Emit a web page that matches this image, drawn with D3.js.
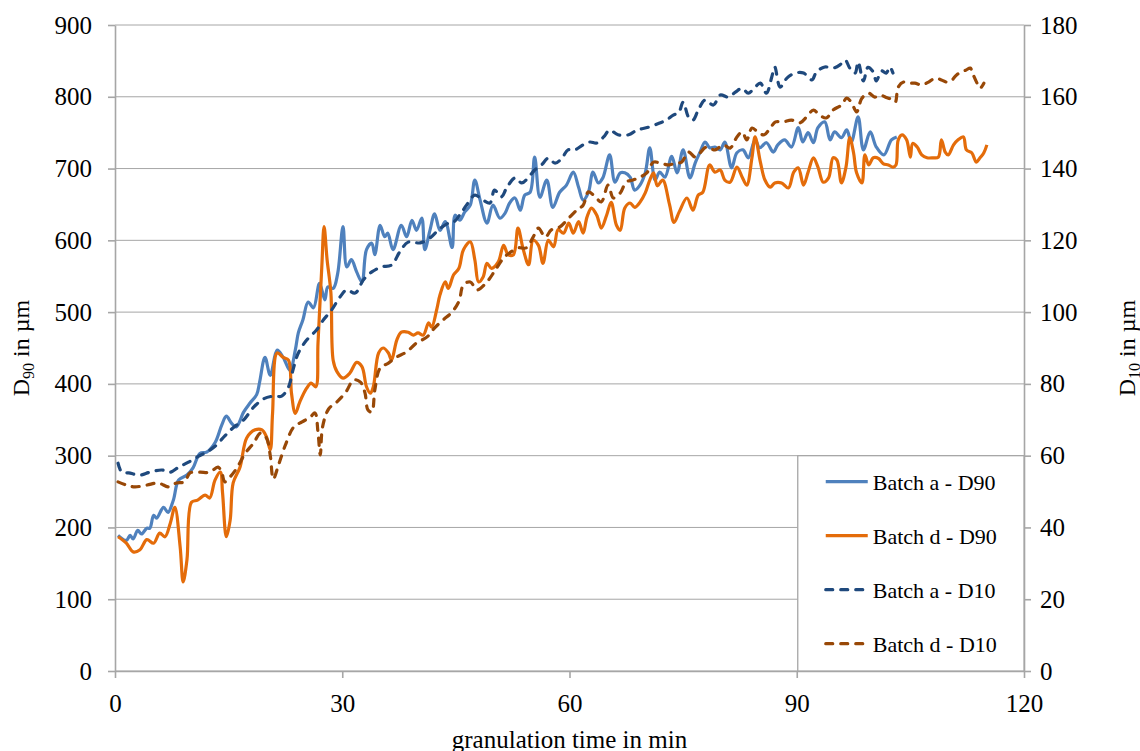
<!DOCTYPE html>
<html>
<head>
<meta charset="utf-8">
<script src="https://cdn.jsdelivr.net/npm/d3@7"></script>
<style>
  body { margin: 0; background: #fff; }
  svg text { font-family: "Liberation Serif", "Times New Roman", serif; fill: #000; }
</style>
</head>
<body>
<div id="chart"></div>
<script>
// tick values
const xTicks = [0, 30, 60, 90, 120];
const d90Ticks = [0, 100, 200, 300, 400, 500, 600, 700, 800, 900];
const d10Ticks = [0, 20, 40, 60, 80, 100, 120, 140, 160, 180];

// [granulation time in min, value]
const batchA_D90 = [
  [0.4,189],[1.5,182],[2,189],[2.4,184],[3,196],[3.5,191],[4.2,199],[4.6,199],[5.1,217],[5.5,213],
  [6.4,228],[7,221],[7.7,238],[8.4,266],[9.5,273],[10.3,283],[11.2,303],[12.1,305],[13.2,318],[14.1,343],
  [14.7,355],[15.4,345],[16,340],[17,361],[17.8,373],[18.7,385],[19.1,403],[19.8,437],[20.5,412],[21.4,447],
  [22.2,437],[23.1,419],[23.8,447],[24.2,471],[24.8,489],[25.5,514],[26.2,506],[27,540],[27.7,517],[28.1,535],
  [28.8,533],[29.4,554],[30.1,619],[30.6,563],[31.2,573],[31.9,556],[32.6,542],[33.2,587],[33.9,596],[34.3,580],
  [35,621],[35.6,605],[36,610],[36.7,587],[37.8,621],[38.5,605],[39.2,628],[39.8,614],[40.5,631],[40.9,587],
  [41.6,615],[42.2,637],[42.9,614],[43.6,626],[44.5,590],[44.9,635],[45.5,628],[46.2,640],[46.9,649],[47.5,684],
  [48.2,656],[49.1,624],[49.9,649],[50.8,631],[51.5,638],[52.1,652],[52.8,659],[53.5,642],[54.1,663],[54.8,667],
  [55.4,716],[56.1,660],[57,684],[57.8,646],[58.7,667],[59.6,677],[60.5,695],[61.2,674],[61.8,656],[62.5,667],
  [63.1,695],[63.8,680],[64.4,687],[65.3,719],[66,681],[66.7,694],[67.3,694],[68,688],[68.6,670],[69.3,677],
  [70,694],[70.6,729],[71.3,684],[71.9,695],[72.6,688],[73.5,717],[74.2,694],[75,726],[75.9,687],[76.6,708],
  [77.2,722],[77.9,737],[78.5,729],[79.2,730],[79.9,726],[80.5,737],[81.4,701],[82.1,722],[82.9,726],[83.6,715],
  [84.5,740],[85.1,729],[86,736],[86.9,723],[87.5,733],[88.4,740],[89.3,730],[90.2,757],[90.8,737],[91.5,750],
  [92.2,736],[92.8,757],[93.7,765],[94.4,740],[95,751],[95.9,743],[96.6,754],[97.2,737],[98.1,772],[98.8,726],
  [99.7,751],[100.5,730],[101.5,719],[102.5,740],[103.2,744]
];

const batchD_D90 = [
  [0.4,187],[1.5,178],[2.4,166],[3.3,169],[4.2,183],[5.1,178],[5.9,192],[6.6,187],[7.3,206],[7.9,228],
  [8.6,173],[9,124],[9.5,155],[10.1,235],[10.9,238],[11.9,245],[12.5,241],[13.2,266],[13.9,277],[14.2,248],
  [14.7,187],[15.2,210],[15.6,262],[16.5,284],[17.4,325],[18.5,336],[19.4,336],[20,326],[20.5,308],[20.8,359],
  [21.4,443],[22.2,437],[22.9,433],[23.3,387],[23.8,359],[24.4,375],[25.3,394],[25.9,401],[26.5,396],[26.8,457],
  [27.3,563],[27.6,619],[28,573],[28.5,527],[28.8,433],[29.3,417],[30.1,408],[31,415],[31.9,430],[32.6,424],
  [33.2,396],[33.7,387],[34.1,396],[34.8,443],[35.4,450],[36.1,443],[36.5,433],[37.2,461],[37.8,472],[38.7,472],
  [39.4,468],[40,471],[40.7,468],[41.4,485],[41.8,479],[42.5,505],[42.9,524],[43.6,542],[44,533],[44.7,552],
  [45.4,561],[46,587],[46.9,598],[47.5,573],[48,542],[48.6,549],[49.1,568],[49.7,561],[50.6,570],[51.3,593],
  [51.9,580],[52.6,580],[53.2,617],[53.9,587],[54.6,566],[55.2,600],[55.9,593],[56.5,568],[57.2,600],[57.9,591],
  [58.5,615],[59.2,610],[59.9,624],[60.5,610],[61.2,626],[61.8,610],[62.3,632],[62.9,645],[63.6,635],[64.2,617],
  [64.9,635],[65.5,653],[66.2,621],[66.7,614],[67.3,645],[68,652],[68.6,646],[69.3,653],[70,666],[70.6,684],
  [71.1,694],[71.6,676],[72.3,684],[73.2,650],[73.8,625],[74.5,640],[75.5,659],[76.3,642],[77,663],[77.6,667],
  [78.5,705],[79.2,695],[79.9,698],[80.5,684],[81.2,681],[82.1,702],[82.8,688],[83.4,677],[84.1,716],[84.5,744],
  [85.2,709],[85.8,684],[86.5,674],[87.1,680],[88,680],[88.9,673],[89.6,695],[90.2,701],[90.9,677],[91.5,695],
  [92.2,715],[92.8,702],[93.5,681],[94.2,687],[94.8,715],[95.3,712],[95.9,680],[96.5,702],[97,743],[97.5,722],
  [97.9,694],[98.6,680],[99,719],[99.5,705],[100.1,715],[100.8,714],[101.4,707],[102.1,705],[102.7,702],[103.1,705],
  [103.4,740],[103.9,747],[104.5,740],[105,716],[105.3,735],[105.9,730],[106.5,719],[107.2,715],[108,715],[108.7,716],
  [109.1,740],[109.6,723],[110,719],[110.7,733],[111.3,740],[112,744],[112.4,726],[113.1,722],[113.7,709],[114.2,715],
  [114.7,722],[115.1,733]
];

const batchA_D10 = [
  [0.4,57.9],[0.9,55.4],[1.8,55.2],[3.3,54.6],[4.6,55.4],[6.2,56],[7.3,55.4],[8.4,56.8],[9.7,58.2],[11,59.8],
  [12.1,61],[13.2,62.6],[14.5,65.5],[15.6,67.8],[17,70],[18.3,73.5],[19.6,75.8],[20.9,76.6],[22,76.6],[22.9,79.1],
  [23.5,83.9],[24.2,88.6],[25.3,92.2],[26.6,95],[27.5,97.8],[28.6,100.6],[29.7,104.2],[30.6,106.2],[31.7,105.3],[32.8,109],
  [33.9,111.2],[35.2,112.6],[36.5,113.1],[37.6,116.8],[38.7,119.5],[40.3,119.3],[41.6,120.7],[42.7,122.9],[44,124.8],[44.7,125.1],
  [45.5,127],[46.4,129.8],[47.5,132.6],[48.6,131.2],[49.5,130.4],[50.1,134],[51,132.1],[51.7,134.6],[52.8,137.4],[53.7,136],
  [54.6,137.6],[55.4,139.6],[56.3,141],[57.2,142.9],[58.1,141.5],[59,142.9],[59.8,145.2],[60.7,145.2],[61.8,146.6],[62.7,147.4],
  [63.6,147.1],[64.5,148.8],[65.3,150.7],[66.4,149.4],[67.8,149.4],[68.9,150.7],[70.4,151.5],[71.9,152.7],[72.8,153.5],[73.7,154.9],
  [74.4,155.5],[75,158.5],[75.7,154.4],[76.3,153.5],[77,156.3],[77.9,159.1],[79,157.7],[79.9,160.5],[81,159.9],[81.9,161.3],
  [82.8,162.4],[83.6,161],[84.5,162.7],[85.2,163.8],[86,161],[86.7,165.5],[87.1,168.3],[87.8,162.7],[88.7,165.2],[89.8,166.6],
  [90.9,166.6],[92,164.7],[92.6,166.9],[93.7,168.3],[94.8,168],[95.7,168.9],[96.4,170.2],[97,168],[97.7,166.6],[98.1,169.7],
  [98.8,164.4],[99.4,168.2],[100.1,166.9],[100.5,164.4],[101.2,167.2],[101.8,166.6],[102.3,168.3],[102.7,166.6]
];

const batchD_D10 = [
  [0.4,52.7],[1.5,51.8],[2.6,51.3],[4.2,51.8],[5.7,52.4],[7.1,51.3],[8.1,52.4],[9.2,52.7],[9.9,55.2],[11.2,55.4],
  [12.5,55.4],[13.6,56.8],[14.1,55.2],[14.5,52.7],[15.2,54.1],[16.1,56.6],[17.2,60.7],[18.3,63.5],[19.2,66.3],[20,64.9],
  [20.5,60],[20.9,53.5],[21.6,57.5],[22.5,63],[23.6,68],[24.7,69.4],[25.8,70.8],[26.4,71.9],[26.8,66.5],[27.1,60.2],
  [27.4,68],[28.2,73],[29.3,75],[30.5,77.8],[31.5,81.1],[32.4,80.5],[33,77.5],[33.4,72.7],[33.9,72.2],[34.3,78.3],
  [35,84.4],[36.1,85.8],[37.2,87.5],[38.5,88.9],[39.8,91.4],[41.2,93.1],[42.2,95.6],[43.3,97.8],[44.4,99.8],[45.4,103],
  [46,107.6],[46.9,108.4],[47.8,106.2],[49.1,108.4],[50.2,111.7],[51.3,115.1],[52.1,116.5],[53.2,117.9],[54.3,117.9],[55.2,120.9],
  [55.9,123.4],[56.8,120.9],[57.6,122.9],[58.7,123.7],[59.9,126.2],[61,128.5],[61.8,129.8],[62.5,133.5],[63.4,132.1],[64.2,130.7],
  [65.1,135.4],[65.8,131.8],[66.7,133.2],[67.5,136.3],[68.4,136.8],[69.3,137.6],[70.2,138.8],[71.1,141.8],[72,141.5],[73.1,141],
  [74,141.5],[74.8,141.8],[75.7,144.6],[76.6,143.2],[77.2,144.3],[78.1,146],[79.2,145.2],[80.3,146.6],[81.2,145.7],[82.1,148.8],
  [82.8,150.2],[83.4,148],[84.1,151.3],[85,149.9],[85.7,149.4],[86.5,151.3],[87.2,153],[88.2,153],[89.3,153.5],[90.4,152.7],
  [91.3,154.4],[92.2,156.3],[93,154.9],[93.9,154.1],[94.8,156.3],[95.9,157.7],[96.6,159.6],[97.2,158.5],[97.9,155.8],[98.6,159.6],
  [99.5,161],[100.3,159.9],[101,160.5],[101.8,159.8],[102.5,159.3],[103,158.5],[103.4,162.7],[104.1,164.1],[105,163.8],[105.6,163.8],
  [106.5,163.3],[107.4,164.1],[108.3,165.2],[109.1,164.7],[109.8,164.1],[110.5,164.7],[111.1,166.1],[111.8,166.9],[112.4,167.5],[112.9,168],
  [113.3,166.1],[113.8,163.8],[114.2,162.4],[114.7,163.8]
];

const seriesNames = ['Batch a - D90', 'Batch d - D90', 'Batch a - D10', 'Batch d - D10'];

const width = 1140, height = 751;
const margin = {top: 25, right: 116, bottom: 80, left: 115};
const innerW = width - margin.left - margin.right;
const innerH = height - margin.top - margin.bottom;
const gridColor = '#a6a6a6';
const serif = '"Liberation Serif", "Times New Roman", serif';

const svg = d3.select('#chart')
  .append('svg')
    .attr('width', width)
    .attr('height', height);

const g = svg.append('g')
  .attr('transform', 'translate(' + margin.left + ',' + margin.top + ')');

const x = d3.scaleLinear().domain([0, 120]).range([0, innerW]);
const yLeft = d3.scaleLinear().domain([0, 900]).range([innerH, 0]);
const yRight = d3.scaleLinear().domain([0, 180]).range([innerH, 0]);

// horizontal gridlines
g.append('g')
  .selectAll('line')
  .data(d90Ticks)
  .enter()
  .append('line')
    .attr('x1', 0)
    .attr('x2', innerW)
    .attr('y1', d => yLeft(d))
    .attr('y2', d => yLeft(d))
    .attr('stroke', gridColor)
    .attr('stroke-width', 1);

function styleAxis(sel) {
  sel.attr('font-family', serif);
  sel.select('.domain').attr('stroke', gridColor).attr('stroke-width', 1.6);
  sel.selectAll('.tick line').attr('stroke', gridColor).attr('stroke-width', 1.6);
  sel.selectAll('.tick text')
    .attr('fill', '#000')
    .style('font-size', '25px')
    .style('font-family', serif);
}

g.append('g')
  .attr('transform', 'translate(0,' + innerH + ')')
  .call(d3.axisBottom(x).tickValues(xTicks).tickSize(7).tickSizeOuter(0).tickPadding(16))
  .call(styleAxis);

g.append('g')
  .call(d3.axisLeft(yLeft).tickValues(d90Ticks).tickSize(7).tickSizeOuter(0).tickPadding(16))
  .call(styleAxis);

g.append('g')
  .attr('transform', 'translate(' + innerW + ',0)')
  .call(d3.axisRight(yRight).tickValues(d10Ticks).tickSize(7).tickSizeOuter(0).tickPadding(9))
  .call(styleAxis);

// legend box sits on the plot and hides the gridlines behind it
const legendX = x(90) + 1, legendY = yLeft(300);
g.append('rect')
  .attr('x', legendX)
  .attr('y', legendY)
  .attr('width', innerW - legendX)
  .attr('height', innerH - legendY)
  .attr('fill', '#fff')
  .attr('stroke', gridColor)
  .attr('stroke-width', 1.3);

const series = [
  {name: seriesNames[0], data: batchA_D90, y: yLeft, color: '#4f81bd', dash: null},
  {name: seriesNames[1], data: batchD_D90, y: yLeft, color: '#e46c0a', dash: null},
  {name: seriesNames[2], data: batchA_D10, y: yRight, color: '#1f497d', dash: '7,8'},
  {name: seriesNames[3], data: batchD_D10, y: yRight, color: '#984807', dash: '7,8'}
];

series.forEach((s) => {
  const line = d3.line()
    .x(d => x(d[0]))
    .y(d => s.y(d[1]))
    .curve(d3.curveCatmullRom.alpha(0.5));

  g.append('path')
    .datum(s.data)
    .attr('d', line)
    .attr('fill', 'none')
    .attr('stroke', s.color)
    .attr('stroke-width', 3.2)
    .attr('stroke-linejoin', 'round')
    .attr('stroke-linecap', s.dash ? 'round' : 'butt')
    .attr('stroke-dasharray', s.dash);
});

const legend = g.append('g')
  .attr('transform', 'translate(' + (legendX + 27) + ',' + (legendY + 26) + ')');

series.forEach((s, i) => {
  const row = legend.append('g').attr('transform', 'translate(0,' + (i * 54) + ')');
  row.append('line')
    .attr('x1', 1).attr('x2', 43)
    .attr('y1', 0).attr('y2', 0)
    .attr('stroke', s.color)
    .attr('stroke-width', 3.2)
    .attr('stroke-linecap', s.dash ? 'round' : 'butt')
    .attr('stroke-dasharray', s.dash);
  row.append('text')
    .attr('x', 48)
    .attr('y', 8)
    .attr('font-family', serif)
    .style('font-size', '22px')
    .text(s.name);
});

// axis titles
const leftTitle = svg.append('text')
  .attr('transform', 'translate(29,' + (margin.top + innerH / 2) + ') rotate(-90)')
  .attr('text-anchor', 'middle')
  .attr('font-family', serif)
  .style('font-size', '24px');
leftTitle.append('tspan').text('D');
leftTitle.append('tspan').attr('dy', 5).style('font-size', '16px').text('90');
leftTitle.append('tspan').attr('dy', -5).text(' in µm');

const rightTitle = svg.append('text')
  .attr('transform', 'translate(1135,' + (margin.top + innerH / 2) + ') rotate(-90)')
  .attr('text-anchor', 'middle')
  .attr('font-family', serif)
  .style('font-size', '24px');
rightTitle.append('tspan').text('D');
rightTitle.append('tspan').attr('dy', 5).style('font-size', '16px').text('10');
rightTitle.append('tspan').attr('dy', -5).text(' in µm');

svg.append('text')
  .attr('x', margin.left + x(60))
  .attr('y', 748)
  .attr('text-anchor', 'middle')
  .attr('font-family', serif)
  .style('font-size', '25px')
  .text('granulation time in min');
</script>
</body>
</html>
